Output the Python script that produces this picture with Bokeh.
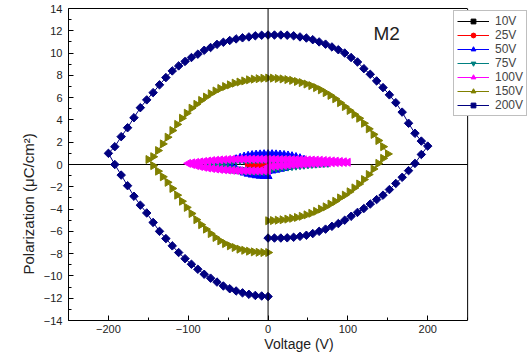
import math
from bokeh.plotting import figure
from bokeh.models import (Span, Label, Legend, LegendItem, FixedTicker, ColumnDataSource,
                          LinearAxis, Title)
from bokeh.embed import file_html
from bokeh.resources import INLINE

# ---------------- data ----------------
labels = ["10V", "25V", "50V", "75V", "100V", "150V", "200V"]
colors = ["#000000", "#FF0000", "#0000FF", "#008080", "#FF00FF", "#808000", "#000080"]

v10 = [0, 2, 4, 6, 8, 10,
       8, 6, 4, 2, 0, -2, -4, -6, -8, -10,
       -8, -6, -4, -2, 0]
p10 = [-0.05, -0.04, -0.03, -0.01, 0.01, 0.03,
       0.05, 0.06, 0.07, 0.07, 0.07, 0.07, 0.06, 0.05, 0.03, 0.01,
       -0.02, -0.04, -0.05, -0.06, -0.06]

v25 = [0, 5, 10, 15, 20, 25,
       20, 15, 10, 5, 0, -5, -10, -15, -20, -25,
       -20, -15, -10, -5, 0]
p25 = [-0.15, -0.12, -0.08, -0.05, -0.02, 0.02,
       0.06, 0.09, 0.11, 0.12, 0.12, 0.12, 0.10, 0.07, 0.03, -0.02,
       -0.08, -0.12, -0.15, -0.17, -0.18]

v50 = [0, 5, 10, 15, 20, 25, 30, 35, 40, 45, 50,
       45, 40, 35, 30, 25, 20, 15, 10, 5, 0, -5, -10, -15, -20, -25, -30, -35, -40, -45, -50,
       -45, -40, -35, -30, -25, -20, -15, -10, -5, 0]
p50 = [-0.60, -0.55, -0.48, -0.40, -0.32, -0.24, -0.16, -0.08, 0.00, 0.08, 0.18,
       0.42, 0.56, 0.66, 0.74, 0.80, 0.85, 0.88, 0.90, 0.92, 0.92, 0.92, 0.90, 0.88, 0.84, 0.78, 0.70, 0.60, 0.47, 0.30, 0.10,
       -0.18, -0.42, -0.60, -0.74, -0.84, -0.92, -0.98, -1.02, -1.04, -1.05]

v75 = [0, 5, 10, 15, 20, 25, 30, 35, 40, 45, 50, 55, 60, 65, 70, 75,
       70, 65, 60, 55, 50, 45, 40, 35, 30, 25, 20, 15, 10, 5, 0,
       -5, -10, -15, -20, -25, -30, -35, -40, -45, -50, -55, -60, -65, -70, -75,
       -70, -65, -60, -55, -50, -45, -40, -35, -30, -25, -20, -15, -10, -5, 0]
p75 = [-0.35, -0.32, -0.29, -0.26, -0.22, -0.18, -0.14, -0.10, -0.06, -0.02, 0.02, 0.05, 0.08, 0.11, 0.13, 0.15,
       0.22, 0.27, 0.31, 0.35, 0.38, 0.41, 0.43, 0.45, 0.46, 0.47, 0.48, 0.49, 0.49, 0.50, 0.50,
       0.50, 0.49, 0.48, 0.47, 0.46, 0.44, 0.42, 0.39, 0.36, 0.32, 0.27, 0.22, 0.16, 0.10, 0.04,
       -0.08, -0.17, -0.25, -0.31, -0.36, -0.41, -0.45, -0.48, -0.51, -0.53, -0.55, -0.57, -0.58, -0.59, -0.60]

v100 = [0, 5, 10, 15, 20, 25, 30, 35, 40, 45, 50, 55, 60, 65, 70, 75, 80, 85, 90, 95, 100,
        95, 90, 85, 80, 75, 70, 65, 60, 55, 50, 45, 40, 35, 30, 25, 20, 15, 10, 5, 0,
        -5, -10, -15, -20, -25, -30, -35, -40, -45, -50, -55, -60, -65, -70, -75, -80, -85, -90, -95, -100,
        -95, -90, -85, -80, -75, -70, -65, -60, -55, -50, -45, -40, -35, -30, -25, -20, -15, -10, -5, 0]
p100 = [-0.20, -0.17, -0.14, -0.11, -0.08, -0.05, -0.02, 0.00, 0.02, 0.04, 0.06, 0.08, 0.10, 0.11, 0.13, 0.14, 0.16, 0.17, 0.18, 0.19, 0.20,
        0.24, 0.27, 0.30, 0.32, 0.34, 0.36, 0.38, 0.39, 0.40, 0.41, 0.42, 0.43, 0.44, 0.44, 0.45, 0.45, 0.45, 0.46, 0.46, 0.46,
        0.46, 0.47, 0.47, 0.48, 0.48, 0.48, 0.48, 0.47, 0.46, 0.45, 0.43, 0.41, 0.38, 0.35, 0.31, 0.27, 0.23, 0.19, 0.15, 0.10,
        0.00, -0.10, -0.18, -0.25, -0.31, -0.36, -0.40, -0.44, -0.47, -0.50, -0.52, -0.54, -0.55, -0.56, -0.57, -0.57, -0.57, -0.57, -0.56, -0.55]

v150 = [0, 6, 12, 18, 24, 30, 36, 42, 48, 54, 60, 66, 72, 78, 84, 90, 96, 102, 108, 114, 120, 126, 132, 138, 144, 150,
        144, 138, 132, 126, 120, 114, 108, 102, 96, 90, 84, 78, 72, 66, 60, 54, 48, 42, 36, 30, 24, 18, 12, 6, 0,
        -6, -12, -18, -24, -30, -36, -42, -48, -54, -60, -66, -72, -78, -84, -90, -96, -102, -108, -114, -120, -126, -132, -138, -144, -150,
        -144, -138, -132, -126, -120, -114, -108, -102, -96, -90, -84, -78, -72, -66, -60, -54, -48, -42, -36, -30, -24, -18, -12, -6, 0]
p150 = [-5.05, -5.03, -5.00, -4.96, -4.90, -4.83, -4.75, -4.65, -4.52, -4.38, -4.20, -4.00, -3.80, -3.55, -3.30, -3.00, -2.75, -2.45, -2.10, -1.75, -1.35, -0.90, -0.40, 0.10, 0.55, 0.95,
        1.60, 2.15, 2.70, 3.20, 3.70, 4.15, 4.50, 4.85, 5.20, 5.55, 5.90, 6.20, 6.45, 6.70, 6.90, 7.08, 7.22, 7.35, 7.45, 7.55, 7.62, 7.68, 7.72, 7.75, 7.76,
        7.74, 7.70, 7.66, 7.60, 7.50, 7.40, 7.30, 7.15, 7.00, 6.82, 6.60, 6.35, 6.05, 5.75, 5.40, 5.05, 4.60, 4.15, 3.60, 3.05, 2.45, 1.85, 1.25, 0.70, 0.45,
        -0.10, -0.60, -1.10, -1.60, -2.15, -2.75, -3.30, -3.85, -4.40, -4.95, -5.40, -5.80, -6.20, -6.55, -6.85, -7.10, -7.30, -7.45, -7.60, -7.70, -7.78, -7.84, -7.88, -7.90, -7.90]

v200 = [0, 8, 16, 24, 32, 40, 48, 56, 64, 72, 80, 88, 96, 104, 112, 120, 128, 136, 144, 152, 160, 168, 176, 184, 192, 200,
        192, 184, 176, 168, 160, 152, 144, 136, 128, 120, 112, 104, 96, 88, 80, 72, 64, 56, 48, 40, 32, 24, 16, 8, 0,
        -8, -16, -24, -32, -40, -48, -56, -64, -72, -80, -88, -96, -104, -112, -120, -128, -136, -144, -152, -160, -168, -176, -184, -192, -200,
        -192, -184, -176, -168, -160, -152, -144, -136, -128, -120, -112, -104, -96, -88, -80, -72, -64, -56, -48, -40, -32, -24, -16, -8, 0]
p200 = [-6.60, -6.60, -6.60, -6.58, -6.53, -6.45, -6.35, -6.20, -6.00, -5.80, -5.55, -5.30, -5.00, -4.65, -4.30, -3.95, -3.55, -3.15, -2.75, -2.25, -1.70, -1.15, -0.55, 0.10, 0.90, 1.65,
        2.10, 2.80, 3.70, 4.70, 5.55, 6.25, 6.90, 7.50, 8.10, 8.60, 9.20, 9.60, 10.00, 10.30, 10.55, 10.80, 11.00, 11.20, 11.35, 11.45, 11.55, 11.60, 11.62, 11.62, 11.62,
        11.60, 11.55, 11.45, 11.37, 11.27, 11.13, 10.97, 10.78, 10.50, 10.25, 9.90, 9.60, 9.25, 8.85, 8.40, 7.80, 7.15, 6.45, 5.80, 5.10, 4.20, 3.30, 2.50, 1.60, 1.00,
        0.00, -0.95, -1.90, -2.85, -3.65, -4.35, -5.20, -6.00, -6.65, -7.30, -7.90, -8.45, -8.95, -9.40, -9.85, -10.20, -10.55, -10.90, -11.15, -11.35, -11.52, -11.65, -11.75, -11.80, -11.85]

x_lim = (-250, 250)
y_lim = (-14, 14)
x_ticks = [-200, -100, 0, 100, 200]
x_minor = [-250, -150, -50, 50, 150, 250]
y_ticks = [-14, -12, -10, -8, -6, -4, -2, 0, 2, 4, 6, 8, 10, 12, 14]
y_minor = [-13, -11, -9, -7, -5, -3, -1, 1, 3, 5, 7, 9, 11, 13]

# ---------------- figure ----------------
FONT = "Liberation Sans"
# frame extends to the right edge so the legend (which overhangs the box) is not clipped;
# the visible box is drawn by axes with bounds + a span at x = 250
x_extra = x_lim[1] + 62 / 0.8
p = figure(width=529, height=354, x_range=(x_lim[0], x_extra), y_range=y_lim,
           output_backend="svg", toolbar_location=None,
           min_border_left=68, min_border_right=0, min_border_top=8, min_border_bottom=32)
p.xgrid.visible = False
p.ygrid.visible = False
p.outline_line_color = None
p.background_fill_color = "white"
p.border_fill_color = "white"

for ax, tk, mn in ((p.xaxis, x_ticks, x_minor), (p.yaxis, y_ticks, y_minor)):
    ax.ticker = FixedTicker(ticks=tk, minor_ticks=mn)
    ax.major_tick_in = 5
    ax.major_tick_out = 0
    ax.minor_tick_in = 3
    ax.minor_tick_out = 0
    ax.axis_line_color = "black"
    ax.major_tick_line_color = "black"
    ax.minor_tick_line_color = "black"
    ax.major_label_text_font = FONT
    ax.major_label_text_font_size = "11px"
    ax.major_label_text_color = "#222222"
    ax.axis_label_text_font = FONT
    ax.axis_label_text_font_size = "14px"
    ax.axis_label_text_font_style = "normal"
    ax.axis_label_text_color = "#222222"

p.xaxis.bounds = x_lim
p.xaxis.axis_label = "Voltage (V)"
p.xaxis.major_label_standoff = 4
p.xaxis.axis_label_standoff = 0
p.yaxis.major_label_standoff = 6

top_axis = LinearAxis(bounds=x_lim, ticker=FixedTicker(ticks=[]), major_tick_in=0,
                      major_tick_out=0, minor_tick_in=0, minor_tick_out=0,
                      major_label_text_font_size="0px", axis_line_color="black")
p.add_layout(top_axis, "above")

p.add_layout(Title(text="Polarization (\u03bcC/cm\u00b2)", align="left", offset=46,
                   text_font=FONT, text_font_size="15px", text_font_style="normal",
                   text_color="#222222", standoff=8), "left")

p.add_layout(Span(location=x_lim[1], dimension="height", line_color="black", line_width=1))
p.add_layout(Span(location=0, dimension="height", line_color="black", line_width=1))
p.segment(x0=[x_lim[0]], y0=[0], x1=[x_lim[1]], y1=[0], line_color="black", line_width=1)

series = [
    (v10, p10, "square", 0.0, 6),
    (v25, p25, "circle", 0.0, 6),
    (v50, p50, "triangle", 0.0, 8),
    (v75, p75, "inverted_triangle", 0.0, 8),
    (v100, p100, "triangle", math.pi / 2, 8),
    (v150, p150, "triangle", -math.pi / 2, 8),
    (v200, p200, "square", math.pi / 4, 6),
]

items = []
for (vx, py, mk, ang, sz), lab, col in zip(series, labels, colors):
    src = ColumnDataSource(dict(x=vx, y=py))
    lr = p.line("x", "y", source=src, line_color=col, line_width=1)
    sr = p.scatter("x", "y", source=src, marker=mk, angle=ang, size=sz,
                   fill_color=col, line_color=col)
    items.append(LegendItem(label=lab, renderers=[lr, sr]))

legend = Legend(items=items, location=(385, 204), glyph_width=32, glyph_height=12,
                label_height=12, spacing=0, padding=3, margin=0, label_standoff=6,
                label_text_font=FONT, label_text_font_size="12px",
                border_line_color="#808080", background_fill_alpha=1.0)
p.add_layout(legend)

p.add_layout(Label(x=132, y=11.8, text="M2", text_font=FONT, text_font_size="19px",
                   text_baseline="alphabetic", text_color="#222222"))

open("out.html", "w").write(file_html(p, INLINE))
